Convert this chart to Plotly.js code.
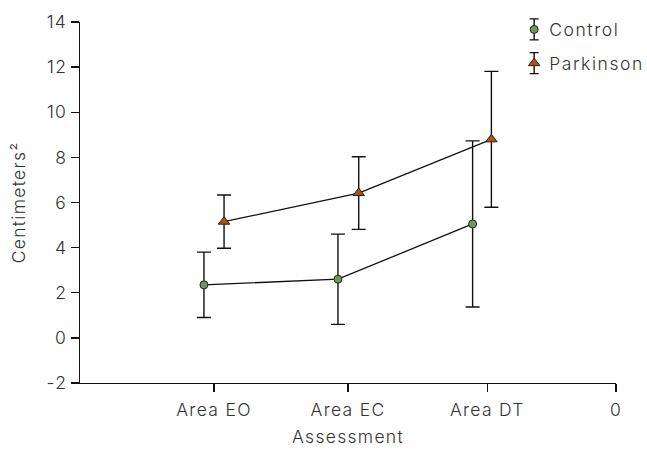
<!DOCTYPE html>
<html>
<head>
<meta charset="utf-8">
<script src="https://cdn.plot.ly/plotly-3.0.1.min.js"></script>
<style>
html,body{margin:0;padding:0;background:#fff;}
#chart{width:647px;height:452px;}
#chart svg text{letter-spacing:1.3px;}
#chart .legend text{letter-spacing:1.6px;}
</style>
</head>
<body>
<div id="chart"></div>
<script>
// Data
const categories = ["Area EO", "Area EC", "Area DT"];
const tickLabels = ["Area EO", "Area EC", "Area DT", "0"];
const tickPositions = [1, 2, 3.04, 4];
const yTickVals = [-2, 0, 2, 4, 6, 8, 10, 12, 14];
const yTickText = ["-2", "0", "2", "4", "6", "8", "10", "12", "14"];
const controlX = [0.925, 1.925, 2.93];
const controlMean = [2.35, 2.6, 5.05];
const controlErr = [1.45, 2.0, 3.68];
const parkinsonX = [1.075, 2.08, 3.07];
const parkinsonMean = [5.15, 6.42, 8.8];
const parkinsonErr = [1.18, 1.61, 3.01];

const fontFam = "Inter, Roboto, sans-serif";
const txtColor = "#333333";
const fnt = {family: fontFam, size: 17.5, color: txtColor, weight: 300};

const controlMarker = {symbol: "circle", size: 8, color: "#6b9a5a", line: {color: "#222", width: 1}};
const parkMarker = {symbol: "triangle-up", size: 10, color: "#b5520a", line: {color: "#222", width: 1}};
const errStyle = {color: "#111111", thickness: 1.4, width: 7};

const traces = [
  {
    x: controlX, y: controlMean, name: "Control", type: "scatter", mode: "lines+markers",
    showlegend: false,
    line: {color: "#111111", width: 1.3},
    marker: controlMarker,
    error_y: Object.assign({type: "data", array: controlErr, visible: true}, errStyle)
  },
  {
    x: parkinsonX, y: parkinsonMean, name: "Parkinson", type: "scatter", mode: "lines+markers",
    showlegend: false,
    line: {color: "#111111", width: 1.3},
    marker: parkMarker,
    error_y: Object.assign({type: "data", array: parkinsonErr, visible: true}, errStyle)
  },
  {x: [null], y: [null], name: "Control", type: "scatter", mode: "markers", marker: controlMarker, legendgroup: "c"},
  {x: [null], y: [null], name: "Parkinson", type: "scatter", mode: "markers", marker: parkMarker, legendgroup: "p"}
];

const layout = {
  width: 647, height: 452,
  margin: {l: 80, r: 31, t: 22, b: 69, autoexpand: false},
  paper_bgcolor: "#fff", plot_bgcolor: "#fff",
  font: fnt,
  showlegend: true,
  legend: {x: 0.81, y: 1.029, xanchor: "left", yanchor: "top", bgcolor: "rgba(0,0,0,0)",
    font: fnt, traceorder: "grouped", tracegroupgap: 8, itemwidth: 30},
  xaxis: {
    range: [0, 4], tickvals: tickPositions, ticktext: tickLabels,
    showgrid: false, zeroline: false, showline: true, linecolor: "#111", linewidth: 1.3,
    ticks: "outside", ticklen: 8, tickcolor: "#111", tickwidth: 1.3,
    tickfont: fnt, ticklabelstandoff: 3,
    title: {text: "Assessment", font: fnt, standoff: 11}
  },
  yaxis: {
    range: [-2, 14], tickvals: yTickVals, ticktext: yTickText,
    showgrid: false, zeroline: false, showline: true, linecolor: "#111", linewidth: 1.3,
    ticks: "outside", ticklen: 8, tickcolor: "#111", tickwidth: 1.3,
    tickfont: fnt,
    title: {text: "Centimeters²", font: fnt, standoff: 19}
  }
};

Plotly.newPlot("chart", traces, layout, {displayModeBar: false, staticPlot: true}).then(function (gd) {
  const ns = "http://www.w3.org/2000/svg";
  // let legend text extend past its measured box (letter-spacing is not measured)
  gd.querySelectorAll(".legend [clip-path]").forEach(function (el) { el.removeAttribute("clip-path"); });
  gd.querySelectorAll(".legend .traces").forEach(function (item) {
    const txt = item.querySelector("text.legendtext");
    if (txt) txt.setAttribute("x", "35");
    const pts = item.querySelector(".legendpoints");
    if (!pts) return;
    // error-bar glyph behind each legend marker
    const p = document.createElementNS(ns, "path");
    p.setAttribute("d", "M20,-10.5V10.5M15.5,-10.5H24.5M15.5,10.5H24.5");
    p.setAttribute("stroke", "#111");
    p.setAttribute("stroke-width", "1.4");
    p.setAttribute("fill", "none");
    pts.parentNode.insertBefore(p, pts);
  });
});
</script>
</body>
</html>
